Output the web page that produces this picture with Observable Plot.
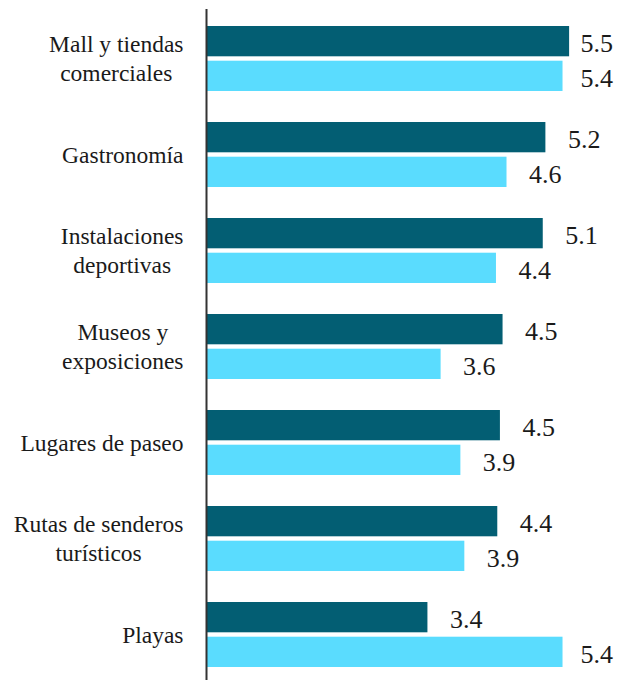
<!DOCTYPE html>
<html>
<head>
<meta charset="utf-8">
<script src="https://cdn.jsdelivr.net/npm/d3@7"></script>
<script src="https://cdn.jsdelivr.net/npm/@observablehq/plot@0.6"></script>
<style>
  html, body { margin: 0; padding: 0; background: #ffffff; }
  #chart svg { display: block; }
</style>
</head>
<body>
<div id="chart"></div>
<script>
const categories = [
  "Mall y tiendas\ncomerciales",
  "Gastronomía",
  "Instalaciones\ndeportivas",
  "Museos y\nexposiciones",
  "Lugares de paseo",
  "Rutas de senderos\nturísticos",
  "Playas"
];
const seriesDark  = [5.51, 5.15, 5.11, 4.50, 4.46, 4.42, 3.36];
const seriesLight = [5.41, 4.56, 4.40, 3.56, 3.86, 3.92, 5.41];

const darkColor = "#035e73";
const lightColor = "#5adcfe";
const fontFamily = "'Liberation Serif', 'DejaVu Serif', serif";
const catFont = 23.5;
const valFont = 26;

const dataDark = categories.map((c, i) => ({cat: c, v: seriesDark[i]}));
const dataLight = categories.map((c, i) => ({cat: c, v: seriesLight[i]}));

const ctx = document.createElement("canvas").getContext("2d");
ctx.font = `${catFont}px ${fontFamily}`;
const blockWidth = s => Math.max(...s.split("\n").map(l => ctx.measureText(l).width));

const labelMarks = categories.map(c => Plot.text([c], {
  y: d => d, text: d => d, frameAnchor: "left", textAnchor: "middle",
  dx: -23 - blockWidth(c) / 2, dy: -1.5, lineHeight: 1.234,
  fontSize: catFont, fontFamily, fill: "#1a1a1a"
}));

const fmt = d => d.v.toFixed(1);
const cap = 5.34;

const chart = Plot.plot({
  width: 618, height: 680,
  marginLeft: 206, marginRight: 0, marginTop: 9, marginBottom: 0,
  x: {domain: [0, 6], range: [206, 206 + 6 * 65.9], axis: null},
  y: {domain: categories, range: [9, 683.8], paddingInner: 0.318, paddingOuter: 0.159, axis: null},
  style: {background: "#ffffff", overflow: "visible"},
  marks: [
    Plot.barX(dataDark, {x: "v", y: "cat", fill: darkColor, insetBottom: 34.7}),
    Plot.barX(dataLight, {x: "v", y: "cat", fill: lightColor, insetTop: 34.7}),
    Plot.ruleX([0], {stroke: "#333333", strokeWidth: 2}),
    Plot.text(dataDark, {x: d => Math.min(d.v, cap), y: "cat", text: fmt, dx: 22, dy: -14.85,
      textAnchor: "start", fontSize: valFont, fontFamily, fill: "#1a1a1a"}),
    Plot.text(dataLight, {x: d => Math.min(d.v, cap), y: "cat", text: fmt, dx: 22, dy: 19.85,
      textAnchor: "start", fontSize: valFont, fontFamily, fill: "#1a1a1a"}),
    ...labelMarks
  ]
});
document.getElementById("chart").appendChild(chart);
</script>
</body>
</html>
